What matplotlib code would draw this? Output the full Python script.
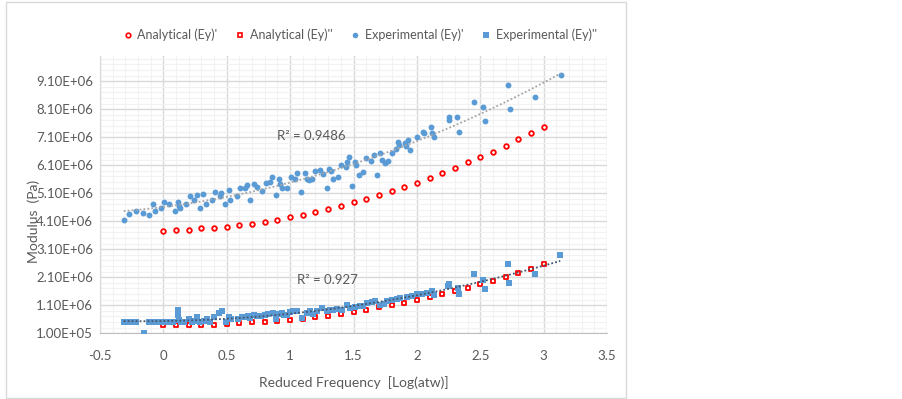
import numpy as np
import matplotlib.pyplot as plt
from matplotlib.lines import Line2D
from matplotlib.patches import Rectangle

plt.rcParams['font.family'] = ['Lato', 'DejaVu Sans']

# analytical model, 0.1 steps of reduced frequency (values in 1e6 Pa)
ana_x = [round(0.1 * i, 1) for i in range(31)]
ana_storage = [3.76, 3.78, 3.80, 3.85, 3.86, 3.90, 3.96, 4.01, 4.07, 4.15, 4.24,
               4.31, 4.42, 4.53, 4.64, 4.77, 4.90, 5.05, 5.17, 5.34, 5.48,
               5.66, 5.82, 6.01, 6.20, 6.39, 6.58, 6.78, 7.02, 7.24, 7.46]
ana_loss = [0.40, 0.40, 0.40, 0.40, 0.40, 0.42, 0.46, 0.49, 0.50, 0.54, 0.58,
            0.61, 0.67, 0.73, 0.78, 0.85, 0.94, 1.03, 1.12, 1.19, 1.29,
            1.38, 1.49, 1.62, 1.72, 1.85, 1.97, 2.10, 2.26, 2.40, 2.56]

# experimental (Ey)'
exp1_x = [-0.313, -0.268, -0.213, -0.157, -0.110, -0.069, -0.081, -0.018, 0.008, 0.045,
          0.089, 0.116, 0.120, 0.134, 0.181, 0.207, 0.239, 0.265, 0.286, 0.313,
          0.333, 0.380, 0.404, 0.457, 0.449, 0.486, 0.514, 0.528, 0.580, 0.606,
          0.646, 0.659, 0.685, 0.717, 0.738, 0.777, 0.809, 0.843, 0.856, 0.887,
          0.916, 0.921, 0.939, 0.974, 1.006, 1.039, 1.057, 1.084, 1.116, 1.131,
          1.152, 1.173, 1.197, 1.236, 1.257, 1.289, 1.307, 1.320, 1.341, 1.376,
          1.402, 1.439, 1.451, 1.462, 1.486, 1.509, 1.520, 1.546, 1.577, 1.598,
          1.640, 1.661, 1.683, 1.709, 1.722, 1.748, 1.774, 1.803, 1.835, 1.853,
          1.858, 1.906, 1.911, 1.927, 1.945, 1.998, 2.050, 2.057, 2.108, 2.120,
          2.136, 2.252, 2.254, 2.320, 2.336, 2.451, 2.522, 2.535, 2.719, 2.735,
          2.935, 3.134]
exp1_y = [4.16, 4.35, 4.46, 4.39, 4.31, 4.46, 4.73, 4.59, 4.80, 4.72,
          4.46, 4.77, 4.65, 4.57, 4.73, 5.00, 4.85, 5.03, 4.59, 5.06,
          4.73, 4.85, 5.16, 5.12, 5.00, 4.73, 5.22, 4.87, 4.99, 5.30,
          5.27, 5.41, 4.87, 5.44, 5.31, 5.17, 5.47, 5.50, 5.68, 5.02,
          5.62, 5.42, 5.30, 5.30, 5.68, 5.62, 5.84, 5.14, 5.82, 5.62,
          5.59, 5.62, 5.88, 5.92, 5.80, 5.29, 5.98, 5.88, 5.62, 5.68,
          6.12, 6.04, 6.21, 6.39, 5.35, 6.21, 6.11, 5.76, 5.85, 6.36,
          6.24, 6.48, 5.76, 6.55, 6.27, 6.19, 6.24, 6.55, 6.67, 6.93,
          6.81, 6.88, 6.77, 7.00, 6.66, 7.10, 7.30, 7.25, 7.45, 7.25,
          7.10, 7.72, 7.81, 7.81, 7.30, 8.37, 8.19, 7.67, 8.96, 8.10,
          8.52, 9.31]

# experimental (Ey)''
exp2_x = [-0.313, -0.282, -0.247, -0.213, -0.155, -0.110, -0.089, -0.069, -0.024, 0.024,
          0.055, 0.076, 0.116, 0.116, 0.120, 0.142, 0.165, 0.205, 0.226, 0.252,
          0.265, 0.291, 0.317, 0.343, 0.370, 0.402, 0.436, 0.462, 0.496, 0.520,
          0.535, 0.592, 0.619, 0.646, 0.664, 0.685, 0.717, 0.738, 0.769, 0.803,
          0.829, 0.861, 0.890, 0.916, 0.948, 0.979, 0.935, 1.000, 1.026, 1.053,
          1.092, 1.131, 1.157, 1.183, 1.209, 1.250, 1.289, 1.315, 1.341, 1.368,
          1.407, 1.446, 1.472, 1.512, 1.551, 1.577, 1.609, 1.643, 1.669, 1.709,
          1.740, 1.761, 1.801, 1.840, 1.866, 1.919, 1.958, 1.998, 2.037, 2.076,
          2.116, 2.134, 2.246, 2.254, 2.325, 2.333, 2.449, 2.522, 2.535, 2.719,
          2.730, 2.935, 3.131]
exp2_y = [0.51, 0.51, 0.51, 0.51, 0.10, 0.51, 0.51, 0.51, 0.51, 0.51,
          0.51, 0.51, 0.93, 0.75, 0.57, 0.51, 0.51, 0.60, 0.51, 0.55,
          0.69, 0.51, 0.55, 0.60, 0.51, 0.67, 0.83, 0.91, 0.51, 0.67,
          0.60, 0.60, 0.67, 0.69, 0.72, 0.63, 0.75, 0.72, 0.72, 0.75,
          0.79, 0.83, 0.60, 0.79, 0.75, 0.75, 0.82, 0.85, 0.88, 0.91,
          0.65, 0.82, 0.88, 0.79, 0.88, 1.00, 0.88, 0.94, 0.92, 0.98,
          0.94, 1.12, 1.00, 1.03, 1.06, 1.08, 1.18, 1.20, 1.24, 1.12,
          1.14, 1.24, 1.30, 1.32, 1.36, 1.38, 1.42, 1.51, 1.51, 1.54,
          1.60, 1.46, 1.80, 1.85, 1.72, 1.50, 2.20, 2.02, 1.67, 2.59,
          1.90, 2.21, 2.91]

labels = ["Analytical (Ey)'", "Analytical (Ey)''", "Experimental (Ey)'", "Experimental (Ey)''"]
r2_texts = ["R² = 0.9486", "R² = 0.927"]

BLUE = '#5B9BD5'
RED = '#FF0000'
TXT = '#595959'

fig = plt.figure(figsize=(9.03, 3.99), dpi=100)
ax = fig.add_axes([100 / 903, 1 - 333.3 / 399, 507 / 903, 277.3 / 399])

# chart border
fig.patches.append(Rectangle((6 / 903, 1 / 399), 620 / 903, 396 / 399,
                             transform=fig.transFigure, fill=False,
                             edgecolor='#D9D9D9', lw=1))

s1 = lambda v: np.asarray(v) * 1e6

ax.scatter(ana_x, s1(ana_storage), s=11, facecolor='white', edgecolor=RED, lw=1.3, zorder=3)
ax.scatter(ana_x, s1(ana_loss), s=12, marker='s', facecolor='white', edgecolor=RED, lw=1.3, zorder=3)
ax.scatter(exp1_x, s1(exp1_y), s=18, color=BLUE, lw=0, zorder=4)
ax.scatter(exp2_x, s1(exp2_y), s=18, marker='s', color=BLUE, lw=0, zorder=4)

# polynomial trendlines on the experimental series
for xs, ys, col in [(exp1_x, exp1_y, '#A5A5A5'), (exp2_x, exp2_y, '#44546A')]:
    c = np.polyfit(xs, ys, 2)
    tx = np.linspace(min(xs), max(xs), 200)
    ax.plot(tx, s1(np.polyval(c, tx)), ls=(0, (1, 1.2)), color=col, lw=1.3, zorder=5)

ax.text(0.895, 7.15e6, r2_texts[0], fontsize=9.5, color=TXT, va='center')
ax.text(1.053, 2.01e6, r2_texts[1], fontsize=9.5, color=TXT, va='center')

ax.set_xlim(-0.5, 3.5)
ax.set_ylim(1e5, 1e7)
ax.set_xticks(np.arange(-0.5, 3.51, 0.5))
ax.set_xticks(np.arange(-0.5, 3.51, 0.1), minor=True)
ax.set_yticks(np.arange(1e5, 1e7, 1e6))
ax.set_yticks(np.arange(1e5, 1e7 + 1, 2e5), minor=True)
ax.set_xticklabels([f"{v:g}" for v in np.arange(-0.5, 3.51, 0.5)])
ax.set_yticklabels([f"{v:.2E}" for v in np.arange(1e5, 1e7, 1e6)])
ax.tick_params(which='both', length=0, labelsize=9.5, labelcolor=TXT)
ax.tick_params(axis='x', pad=12)
ax.tick_params(axis='y', pad=5)

ax.grid(which='major', color='#D9D9D9', lw=1)
ax.grid(which='minor', color='#F2F2F2', lw=0.8)
ax.set_axisbelow(True)
for side in ['top', 'right']:
    ax.spines[side].set_visible(False)
ax.spines['left'].set_color('#D9D9D9')
ax.spines['bottom'].set_color('#BFBFBF')

ax.set_xlabel("Reduced Frequency  [Log(atw)]", fontsize=10, color=TXT)
ax.xaxis.set_label_coords(0.5, -0.155)
ax.set_ylabel("Modulus  (Pa)", fontsize=10, color=TXT)
ax.yaxis.set_label_coords(-0.118, 0.405)

handles = [
    Line2D([], [], ls='', marker='o', ms=3.3, mfc='white', mec=RED, mew=1.2),
    Line2D([], [], ls='', marker='s', ms=3.3, mfc='white', mec=RED, mew=1.2),
    Line2D([], [], ls='', marker='o', ms=4, color=BLUE, mew=0),
    Line2D([], [], ls='', marker='s', ms=4, color=BLUE, mew=0),
]
fig.legend(handles, labels, loc='center', bbox_to_anchor=(360 / 903, 1 - 35 / 399),
           ncol=4, frameon=False, fontsize=9, labelcolor=TXT,
           handlelength=0.7, handletextpad=0.4, columnspacing=1.5)

fig.savefig("out.png", dpi=100, facecolor='white')
